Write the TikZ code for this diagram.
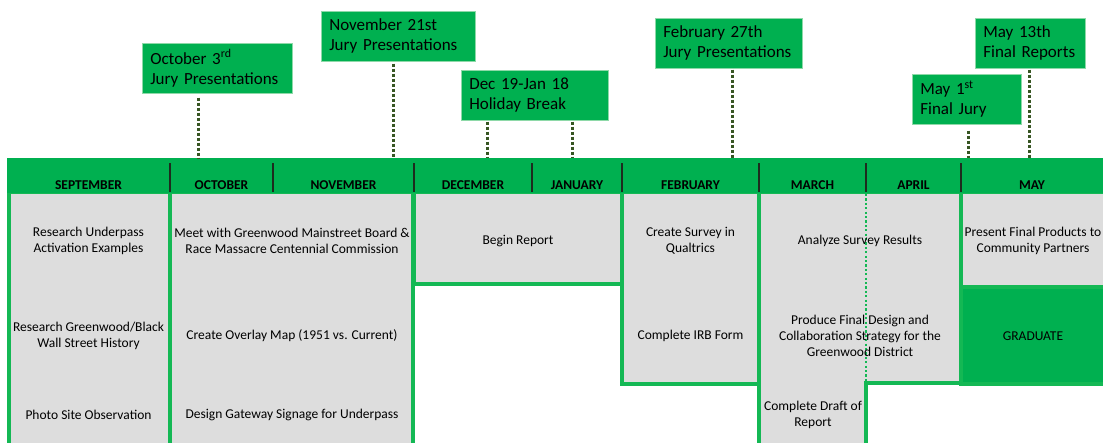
\documentclass[tikz,border=0pt]{standalone}
\usepackage{fontspec}
\setmainfont{Carlito}
\definecolor{xlgreen}{HTML}{00B050}
\definecolor{bordgreen}{HTML}{14B854}
\definecolor{lblborder}{HTML}{8ED9A8}
\definecolor{cellgrey}{HTML}{DDDDDD}
\definecolor{sepdark}{HTML}{1E2B1E}
\definecolor{dotolive}{HTML}{375623}
\begin{document}
\begin{tikzpicture}[x=1pt,y=-1pt,
  cell/.style={fill=cellgrey,draw=bordgreen,line width=3.5pt},
  gradcell/.style={fill=xlgreen,draw=bordgreen,line width=3.5pt},
  celltext/.style={font=\fontsize{13.5}{16.3}\selectfont,align=center,text=black,inner sep=0pt},
  month/.style={font=\fontsize{13.5}{16}\selectfont\bfseries,text=black,anchor=base,inner sep=0pt},
  msep/.style={draw=sepdark,line width=1.3pt},
  lbl/.style={fill=xlgreen,draw=lblborder,line width=0.6pt,font=\fontsize{17}{20}\selectfont,align=left,text width=#1,inner xsep=8pt,inner ysep=0pt,anchor=north west,minimum height=50pt,text=black},
  tick/.style={draw=dotolive,line width=3pt,dash pattern=on 3pt off 2pt},
  gdots/.style={draw=bordgreen,line width=2.2pt,dash pattern=on 2.2pt off 2.2pt},
]
\useasboundingbox (0,0) rectangle (1103,442);
\fill[white] (0,0) rectangle (1103,442);
\clip (0,0) rectangle (1103,442);

% cells
\draw[cell] (9,192) rectangle (170,470);
\draw[cell] (170,192) rectangle (413,470);
\draw[cell] (414,192) rectangle (622,284);
\draw[cell] (622,192) rectangle (759,384);
\draw[cell] (759,192) -- (961,192) -- (961,383) -- (866,383) -- (866,470) -- (759,470) -- cycle;
\draw[gdots] (866,194) -- (866,381);
\draw[cell] (961,192) rectangle (1115,287);
\draw[gradcell] (961,287) rectangle (1115,384);

% header band
\fill[xlgreen] (7,158) rectangle (1110,192.5);
\foreach \x in {170,273,414,532,622,759,866,961}
  \draw[msep] (\x,163) -- (\x,192);

% month names
\node[month] (sep) at (88.5,189) {SEPTEMBER};
\node[month] (oct) at (221.5,189) {OCTOBER};
\node[month] (nov) at (343.5,189) {NOVEMBER};
\node[month] (dec) at (473,189) {DECEMBER};
\node[month] (jan) at (577,189) {JANUARY};
\node[month] (feb) at (690.5,189) {FEBRUARY};
\node[month] (mar) at (812.5,189) {MARCH};
\node[month] (apr) at (913.5,189) {APRIL};
\node[month] (may) at (1032,189) {MAY};

% cell texts
\node[celltext] (c1) at (88.5,241) {Research Underpass\\Activation Examples};
\node[celltext] (c2) at (88.5,336) {Research Greenwood/Black\\Wall Street History};
\node[celltext] (c3) at (88.5,415) {Photo Site Observation};
\node[celltext] (c4) at (292,241) {Meet with Greenwood Mainstreet Board \&\\Race Massacre Centennial Commission};
\node[celltext] (c5) at (292,336) {Create Overlay Map (1951 vs. Current)};
\node[celltext] (c6) at (292,415) {Design Gateway Signage for Underpass};
\node[celltext] (c7) at (518,241) {Begin Report};
\node[celltext] (c8) at (690.5,241) {Create Survey in\\Qualtrics};
\node[celltext] (c9) at (690.5,336) {Complete IRB Form};
\node[celltext] (c10) at (860,241) {Analyze Survey Results};
\node[celltext] (c11) at (860,336) {Produce Final Design and\\Collaboration Strategy for the\\Greenwood District};
\node[celltext] (c12) at (813,415) {Complete Draft of\\Report};
\node[celltext] (c13) at (1033,241) {Present Final Products to\\Community Partners};
\node[celltext] (c14) at (1033,336) {GRADUATE};

% labels
\node[lbl=134pt] (l1) at (142,43) {October 3\textsuperscript{rd}\\Jury Presentations};
\node[lbl=138pt] (l2) at (321,11) {November 21st\\Jury Presentations};
\node[lbl=131pt] (l3) at (461,70) {Dec 19-Jan 18\\Holiday Break};
\node[lbl=131pt] (l4) at (655,18) {February 27th\\Jury Presentations};
\node[lbl=93pt] (l5) at (912,74) {May 1\textsuperscript{st}\\Final Jury};
\node[lbl=94pt] (l6) at (975,18) {May 13th\\Final Reports};

% tick points on the header
\coordinate (t1) at (198,158);
\coordinate (t2) at (393,158);
\coordinate (t3) at (487,158);
\coordinate (t4) at (572,158);
\coordinate (t5) at (732,158);
\coordinate (t6) at (968,158);
\coordinate (t7) at (1029,158);

\draw[tick] ([yshift=-4pt]l1.south -| t1) -- (t1);
\draw[tick] ([yshift=-2pt]l2.south -| t2) -- (t2);
\draw[tick] ([yshift=-1pt]l3.south -| t3) -- (t3);
\draw[tick] ([yshift=-1pt]l3.south -| t4) -- (t4);
\draw[tick] ([yshift=-1pt]l4.south -| t5) -- (t5);
\draw[tick] ([yshift=-6pt]l5.south -| t6) -- (t6);
\draw[tick] ([yshift=-1pt]l6.south -| t7) -- (t7);
\end{tikzpicture}
\end{document}
